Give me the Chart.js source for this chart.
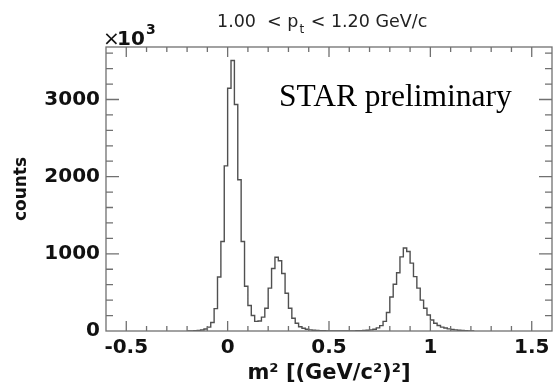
<!DOCTYPE html>
<html>
<head>
<meta charset="utf-8">
<script src="https://cdn.jsdelivr.net/npm/chart.js@4.4.1/dist/chart.umd.min.js"></script>
<style>
  html, body { margin: 0; padding: 0; background: #fff; overflow: hidden; }
  #wrap { position: relative; width: 557px; height: 389px; }
</style>
</head>
<body>
<div id="wrap"><canvas id="chart"></canvas></div>
<script>
// m^2 histogram, bins of 1/60 (GeV/c^2)^2 starting at -0.2
const firstBinLow = -0.2;
const binWidth = 1 / 60;
const counts = [
  1, 2, 4, 7, 12, 25, 50, 110, 290, 700, 1160, 2140,
  3145, 3505, 2935, 1960, 1160, 580, 330, 200, 125, 130,
  180, 295, 555, 810, 955, 910, 745, 490, 295, 165,
  100, 55, 35, 22, 14, 9, 6, 4, 3, 2,
  2, 1, 1, 1, 1, 1, 2, 2, 3, 4,
  6, 9, 14, 22, 40, 70, 125, 240, 440, 605,
  755, 960, 1075, 1030, 880, 705, 555, 400, 295, 208,
  143, 100, 72, 50, 38, 27, 20, 14, 9, 6,
  4, 2, 1,
];

const xMajorTicks = [-0.5, 0, 0.5, 1, 1.5];
const yMajorTicks = [0, 1000, 2000, 3000];

const lineColor = "#505050";
const axisColor = "#707070";

const ctx = document.getElementById("chart");

// left edge of every bin, plus the closing right edge
function histogramPoints() {
  const pts = [];
  for (let i = 0; i < counts.length; i++) {
    pts.push({ x: firstBinLow + i * binWidth, y: counts[i] });
  }
  pts.push({ x: firstBinLow + counts.length * binWidth, y: counts[counts.length - 1] });
  return pts;
}

function isMajor(list, v) {
  return list.some((t) => Math.abs(t - v) < 1e-6);
}

// ROOT style frame with ticks on all four sides, pointing inwards
const frameTicks = {
  id: "frameTicks",
  afterDatasetsDraw(chart) {
    const { ctx, chartArea: a, scales } = chart;
    const x = scales.x;
    const y = scales.y;
    ctx.save();
    ctx.strokeStyle = axisColor;
    ctx.lineWidth = 1.3;
    ctx.strokeRect(a.left, a.top, a.right - a.left, a.bottom - a.top);
    ctx.beginPath();
    x.ticks.forEach((t) => {
      const px = x.getPixelForValue(t.value);
      if (px <= a.left + 1 || px >= a.right - 1) return;
      const len = isMajor(xMajorTicks, t.value) ? 10 : 5;
      ctx.moveTo(px, a.bottom);
      ctx.lineTo(px, a.bottom - len);
      ctx.moveTo(px, a.top);
      ctx.lineTo(px, a.top + len);
    });
    y.ticks.forEach((t) => {
      if (Math.abs(t.value / 200 - Math.round(t.value / 200)) > 1e-6) return;
      const py = y.getPixelForValue(t.value);
      if (py >= a.bottom - 1 || py <= a.top + 1) return;
      const len = isMajor(yMajorTicks, t.value) ? 13 : 7;
      ctx.moveTo(a.left, py);
      ctx.lineTo(a.left + len, py);
      ctx.moveTo(a.right, py);
      ctx.lineTo(a.right - len, py);
    });
    ctx.stroke();
    ctx.restore();
  },
  afterDraw(chart) {
    const c = chart.ctx;
    c.save();
    c.textBaseline = "alphabetic";

    // pt range title with subscript
    c.fillStyle = "#222";
    let tx = 217;
    c.font = "17.5px 'DejaVu Sans'";
    c.fillText("1.00  < p", tx, 27);
    tx += c.measureText("1.00  < p").width;
    c.font = "12px 'DejaVu Sans'";
    c.fillText("t", tx + 1, 33);
    tx += c.measureText("t").width + 2;
    c.font = "17.5px 'DejaVu Sans'";
    c.fillText(" < 1.20 GeV/c", tx, 27);

    // axis multiplier
    c.fillStyle = "#111";
    c.font = "20px 'DejaVu Sans'";
    c.fillText("\u00d7", 103, 45);
    c.font = "bold 20px 'DejaVu Sans'";
    c.fillText("10", 117, 45);
    c.font = "bold 14px 'DejaVu Sans'";
    c.fillText("3", 146, 34);

    c.fillStyle = "#000";
    c.font = "31.5px 'Liberation Serif'";
    c.fillText("STAR preliminary", 279, 106);
    c.restore();
  },
};

new Chart(ctx, {
  type: "line",
  data: {
    datasets: [
      {
        data: histogramPoints(),
        borderColor: lineColor,
        borderWidth: 1.4,
        pointRadius: 0,
        stepped: true,
        fill: false,
      },
    ],
  },
  options: {
    responsive: true,
    maintainAspectRatio: false,
    animation: false,
    devicePixelRatio: 1,
    layout: { padding: { top: 47, right: 2, bottom: 0, left: 0 } },
    plugins: { legend: { display: false }, tooltip: { enabled: false } },
    scales: {
      x: {
        type: "linear",
        min: -0.6,
        max: 1.6,
        grid: { display: false, drawTicks: false },
        border: { display: false },
        ticks: {
          stepSize: 0.1,
          autoSkip: false,
          maxRotation: 0,
          padding: 5,
          color: "#111",
          font: { family: "DejaVu Sans", size: 20, weight: "bold" },
          callback: (v) => (isMajor(xMajorTicks, v) ? String(Math.round(v * 2) / 2) : ""),
        },
        title: {
          display: true,
          text: "m\u00b2 [(GeV/c\u00b2)\u00b2]",
          color: "#111",
          font: { family: "DejaVu Sans", size: 21, weight: "bold" },
          padding: { top: 0, bottom: 3 },
        },
        afterFit: (scale) => {
          scale.height = 58;
        },
      },
      y: {
        min: 0,
        max: 3680,
        grid: { display: false, drawTicks: false },
        border: { display: false },
        ticks: {
          stepSize: 200,
          includeBounds: false,
          autoSkip: false,
          padding: 6,
          color: "#111",
          font: { family: "DejaVu Sans", size: 20, weight: "bold" },
          callback: (v) => (isMajor(yMajorTicks, v) ? String(v) : ""),
        },
        title: {
          display: true,
          text: "counts",
          color: "#111",
          font: { family: "DejaVu Sans", size: 17, weight: "bold" },
          padding: { top: 11, bottom: 0 },
        },
        afterFit: (scale) => {
          scale.width = 106;
        },
      },
    },
  },
  plugins: [frameTicks],
});
</script>
</body>
</html>
